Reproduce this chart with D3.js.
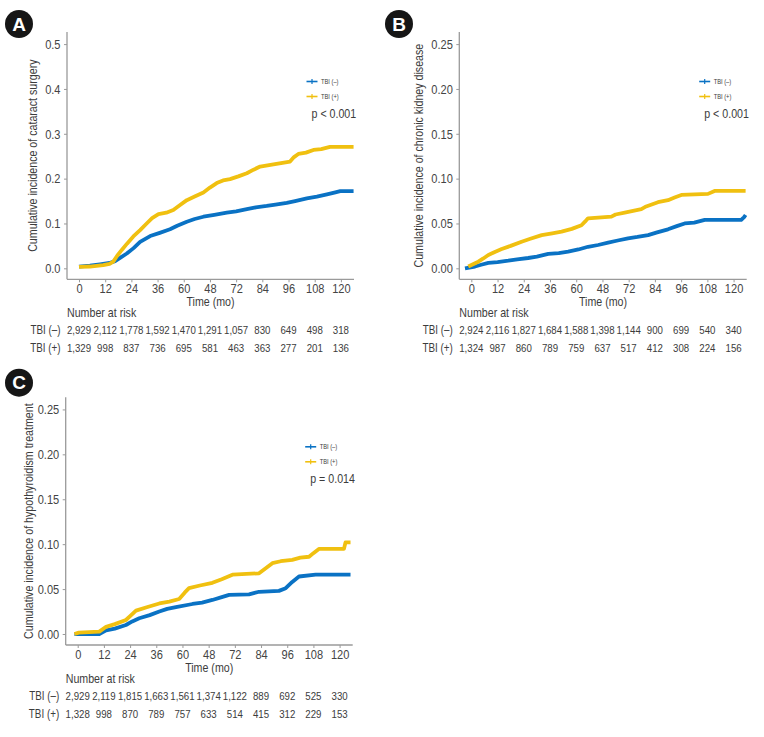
<!DOCTYPE html>
<html>
<head>
<meta charset="utf-8">
<script src="https://cdn.jsdelivr.net/npm/d3@7"></script>
<style>
  body { margin: 0; background: #fff; }
  svg text { font-family: "Liberation Sans", Arial, sans-serif; fill: #3c3c3c; }
</style>
</head>
<body>
<script>
// x axis: month ticks and their printed labels (the figure prints 60 before 48)
const tickMonths = [0, 12, 24, 36, 48, 60, 72, 84, 96, 108, 120]
const tickLabels = ['0', '12', '24', '36', '60', '48', '72', '84', '96', '108', '120']

const seriesNames = ['TBI (–)', 'TBI (+)']
const seriesColors = ['#0a72c4', '#f0c010']

// A: cataract surgery
const cataractNeg = [[0,0.004],[5,0.006],[9.6,0.009],[14,0.012],[16.5,0.016],[19,0.024],[21.9,0.033],[25,0.045],[28,0.059],[32.6,0.072],[37,0.079],[41.7,0.087],[45,0.095],[49.4,0.104],[53,0.110],[57,0.115],[62,0.119],[67.7,0.124],[72,0.127],[76.9,0.132],[81,0.136],[86,0.139],[90,0.142],[95.2,0.146],[99,0.150],[104.4,0.156],[109,0.160],[113.6,0.165],[117,0.169],[119.7,0.172],[125.8,0.172]]
const cataractPos = [[0,0.003],[5,0.004],[11.1,0.007],[14,0.010],[15.7,0.015],[17.5,0.028],[19.6,0.041],[22,0.055],[24.9,0.071],[28,0.085],[31,0.100],[33.5,0.112],[36.4,0.121],[40,0.124],[43.2,0.130],[46,0.140],[49.4,0.152],[53,0.160],[57,0.169],[60,0.180],[63.1,0.190],[66,0.196],[69.2,0.199],[73,0.205],[76.9,0.212],[80,0.220],[83,0.227],[89.1,0.232],[96.7,0.238],[98.5,0.248],[100.5,0.255],[104,0.258],[107.4,0.264],[111,0.266],[115,0.271],[125.8,0.271]]

// B: chronic kidney disease
const ckdNeg = [[-2.9,0],[1.7,0.002],[4.5,0.004],[7.8,0.006],[12,0.007],[16.9,0.0085],[21,0.010],[26,0.0115],[30,0.013],[35.2,0.016],[40,0.017],[44.3,0.0185],[49,0.021],[53.4,0.024],[58,0.026],[62.6,0.0286],[67,0.031],[71.7,0.0335],[76,0.035],[80.9,0.037],[85,0.040],[90,0.0435],[94,0.047],[97.6,0.050],[102,0.051],[106.8,0.054],[123.5,0.054],[124.8,0.057],[125.5,0.0595]]
const ckdPos = [[-1.4,0.002],[3.2,0.0074],[5.5,0.011],[7.8,0.0148],[10.5,0.018],[13.9,0.0215],[18,0.025],[23,0.0297],[27,0.033],[32.2,0.037],[37,0.039],[41.3,0.041],[46,0.044],[50.4,0.048],[52,0.052],[53.4,0.0558],[64.1,0.0576],[66,0.060],[70.2,0.062],[77.8,0.066],[80,0.069],[85.4,0.0737],[90,0.076],[93,0.079],[96.1,0.0818],[108.3,0.083],[111.3,0.0863],[125.5,0.0863]]

// C: hypothyroidism treatment
const thyroidNeg = [[-1.5,0],[9.9,0.000],[13,0.004],[17,0.006],[22.1,0.010],[25,0.014],[28.2,0.0175],[33,0.021],[37.4,0.025],[41,0.028],[45,0.030],[52.6,0.0334],[57,0.035],[61.7,0.0379],[66,0.041],[69.4,0.0435],[78.5,0.0442],[83.1,0.047],[92.2,0.048],[95.3,0.051],[98.3,0.058],[101.4,0.064],[109,0.066],[125,0.066]]
const thyroidPos = [[-1.5,0],[0.5,0.0015],[9.9,0.0026],[13,0.008],[17,0.011],[22.1,0.0156],[24.5,0.021],[26.7,0.026],[32,0.030],[37.4,0.034],[42,0.036],[46.5,0.039],[49,0.046],[51,0.051],[56,0.054],[61.7,0.057],[66,0.061],[70.9,0.066],[83.1,0.0676],[86,0.073],[89.2,0.0788],[93,0.081],[98.3,0.0825],[102,0.085],[106,0.086],[108,0.090],[110.5,0.0947],[122,0.0947],[122.7,0.102],[125,0.102]]

// number at risk
const riskCataractNeg = [2929, 2112, 1778, 1592, 1470, 1291, 1057, 830, 649, 498, 318]
const riskCataractPos = [1329, 998, 837, 736, 695, 581, 463, 363, 277, 201, 136]
const riskCkdNeg = [2924, 2116, 1827, 1684, 1588, 1398, 1144, 900, 699, 540, 340]
const riskCkdPos = [1324, 987, 860, 789, 759, 637, 517, 412, 308, 224, 156]
const riskThyroidNeg = [2929, 2119, 1815, 1663, 1561, 1374, 1122, 889, 692, 525, 330]
const riskThyroidPos = [1328, 998, 870, 789, 757, 633, 514, 415, 312, 229, 153]

const yTicksBig = [0, 0.1, 0.2, 0.3, 0.4, 0.5]
const yTicksSmall = [0, 0.05, 0.10, 0.15, 0.20, 0.25]

const panels = [
  { letter: 'A', cx: 19, cy: 24, left: 67, right: 354, top: 32, bottom: 279.3, yMax: 0.5, yTicks: yTicksBig, yFmt: '.1f',
    title: 'Cumulative incidence of cataract surgery', titleDx: 34.5, p: 'p < 0.001',
    curves: [cataractNeg, cataractPos], risk: [riskCataractNeg, riskCataractPos] },
  { letter: 'B', cx: 399, cy: 24, left: 459.3, right: 746.7, top: 32, bottom: 279.3, yMax: 0.25, yTicks: yTicksSmall, yFmt: '.2f',
    title: 'Cumulative incidence of chronic kidney disease', titleDx: 41, p: 'p < 0.001',
    curves: [ckdNeg, ckdPos], risk: [riskCkdNeg, riskCkdPos] },
  { letter: 'C', cx: 19, cy: 382.7, left: 65.7, right: 352.7, top: 397.3, bottom: 645, yMax: 0.25, yTicks: yTicksSmall, yFmt: '.2f',
    title: 'Cumulative incidence of hypothyroidism treatment', titleDx: 37.5, p: 'p = 0.014',
    curves: [thyroidNeg, thyroidPos], risk: [riskThyroidNeg, riskThyroidPos] }
]

const svg = d3.select('body').append('svg').attr('width', 764).attr('height', 737)
const AXIS = '#9a9a9a'
const NARROW = 0.82   // squeeze text horizontally: the figure uses a condensed face
const fmtN = d3.format(',')

// condensed text helper
function label(g, x, y, str, size, anchor = 'start', rot = 0) {
  return g.append('text')
    .attr('transform', `translate(${x},${y}) rotate(${rot}) scale(${NARROW},1)`)
    .attr('dy', '0.35em').attr('text-anchor', anchor)
    .style('font-size', size + 'px').text(str)
}

panels.forEach(p => {
  const g = svg.append('g')
  const x = d3.scaleLinear().domain([-5.5, 126]).range([p.left, p.right])
  const y = d3.scaleLinear().domain([-p.yMax * 0.049, p.yMax * 1.054]).range([p.bottom, p.top])

  // panel letter badge
  g.append('circle').attr('cx', p.cx).attr('cy', p.cy).attr('r', 14).attr('fill', '#161616')
  g.append('text').attr('x', p.cx).attr('y', p.cy + 6.5).attr('text-anchor', 'middle')
    .style('font-weight', 'bold').style('font-size', '19px').style('fill', '#fff').text(p.letter)

  // axes
  const xAxis = g.append('g').attr('transform', `translate(0,${p.bottom})`)
    .call(d3.axisBottom(x).tickValues(tickMonths).tickSize(3).tickPadding(3)
      .tickFormat((d, i) => tickLabels[i]))
  const yAxis = g.append('g').attr('transform', `translate(${p.left},0)`)
    .call(d3.axisLeft(y).tickValues(p.yTicks).tickSize(3).tickPadding(3).tickFormat(d3.format(p.yFmt)))
  ;[xAxis, yAxis].forEach(a => {
    a.select('.domain').attr('stroke', AXIS).attr('stroke-width', 1.3)
    a.selectAll('.tick line').attr('stroke', AXIS)
    a.selectAll('.tick text').style('font-size', '13.5px').style('fill', '#444')
      .attr('transform', `scale(${NARROW},1)`)
  })
  yAxis.selectAll('.tick text').attr('x', -6.5 / NARROW)
  xAxis.selectAll('.tick text').attr('y', 4.5)
  // plain axis lines, no outer ticks
  xAxis.select('.domain').attr('d', `M${p.left},0H${p.right}`)
  yAxis.select('.domain').attr('d', `M0,${p.top}V${p.bottom}`)

  // curves
  const line = d3.line().x(d => x(d[0])).y(d => y(d[1]))
  p.curves.forEach((c, i) => {
    g.append('path').datum(c).attr('d', line).attr('fill', 'none')
      .attr('stroke', seriesColors[i]).attr('stroke-width', 3.8).attr('stroke-linejoin', 'round')
  })

  // axis titles
  label(g, p.left - p.titleDx, (p.top + p.bottom) / 2, p.title, 13, 'middle', -90)
  label(g, (p.left + p.right) / 2, p.bottom + 22.5, 'Time (mo)', 13, 'middle')

  // legend
  seriesNames.forEach((name, i) => {
    const ly = p.top + 49.5 + i * 15
    g.append('line').attr('x1', p.right - 47.5).attr('x2', p.right - 36.5).attr('y1', ly).attr('y2', ly)
      .attr('stroke', seriesColors[i]).attr('stroke-width', 1.6)
    g.append('line').attr('x1', p.right - 42).attr('x2', p.right - 42).attr('y1', ly - 2.5).attr('y2', ly + 2.5)
      .attr('stroke', seriesColors[i]).attr('stroke-width', 1.2)
    label(g, p.right - 33, ly, name, 7)
  })
  label(g, p.right - 42.5, p.top + 81.5, p.p, 13)

  // number at risk table
  label(g, p.left, p.bottom + 33, 'Number at risk', 13)
  p.risk.forEach((row, i) => {
    const ry = p.bottom + 50.8 + i * 17.7
    label(g, p.left - 6.5, ry, seriesNames[i], 12, 'end')
    row.forEach((d, j) => label(g, x(tickMonths[j]), ry, fmtN(d), 11.8, 'middle'))
  })
})
</script>
</body>
</html>
